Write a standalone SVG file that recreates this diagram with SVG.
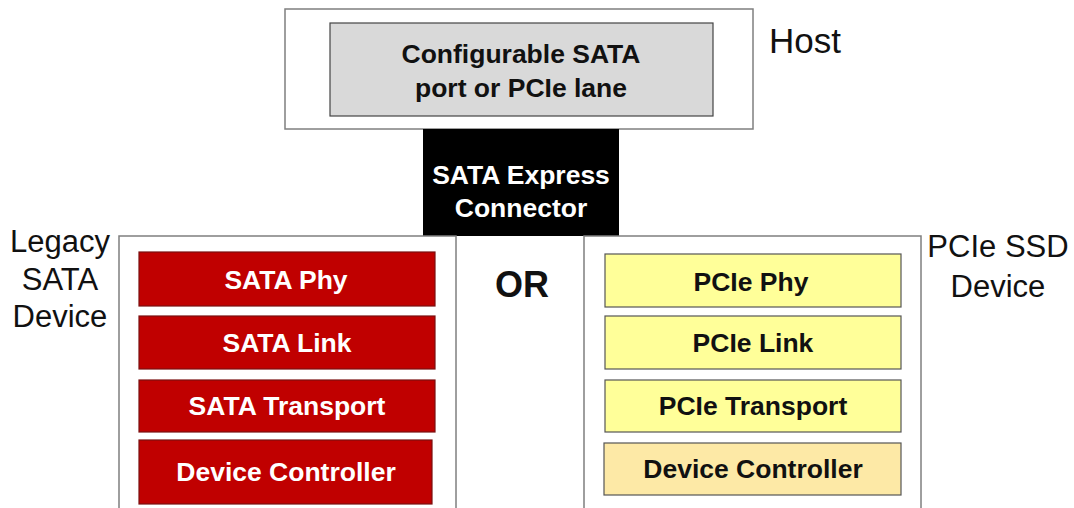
<svg xmlns="http://www.w3.org/2000/svg" width="1074" height="508" viewBox="0 0 1074 508">
<style>
.frame{fill:#fff;stroke:#7f7f7f;stroke-width:1.5}
.red{fill:#c00000;stroke:#7a1010;stroke-width:1.2}
.yel{fill:#ffff99;stroke:#555;stroke-width:1.2}
.org{fill:#fde9a6;stroke:#555;stroke-width:1.2}
.b{font-family:"Liberation Sans",Arial,sans-serif;font-weight:bold;font-size:26.5px;text-anchor:middle}
.w{fill:#fff}
.k{fill:#111}
.lab{font-family:"Liberation Sans",Arial,sans-serif;font-size:31px;fill:#111;text-anchor:middle}
</style>
<rect width="1074" height="508" fill="#fff"/>
<g id="host">
<rect class="frame" x="285" y="9" width="468" height="120"/>
<rect x="330" y="23" width="383" height="93" fill="#d9d9d9" stroke="#444" stroke-width="1.2"/>
<text class="b k" x="521" y="63">Configurable SATA</text>
<text class="b k" x="521" y="97">port or PCIe lane</text>
<text x="769" y="53" font-family="Liberation Sans, Arial, sans-serif" font-size="35" fill="#111">Host</text>
</g>
<g id="connector">
<rect x="423" y="129" width="196" height="107" fill="#000"/>
<text class="b w" x="521" y="184">SATA Express</text>
<text class="b w" x="521" y="217">Connector</text>
</g>
<g id="legacy">
<rect class="frame" x="119" y="236" width="337" height="280"/>
<text class="lab" x="60" y="252">Legacy</text>
<text class="lab" x="60" y="290">SATA</text>
<text class="lab" x="60" y="327">Device</text>
<rect class="red" x="139" y="252" width="296" height="54"/>
<text class="b w" x="286" y="289">SATA Phy</text>
<rect class="red" x="139" y="316" width="296" height="53"/>
<text class="b w" x="287" y="352">SATA Link</text>
<rect class="red" x="139" y="380" width="296" height="52"/>
<text class="b w" x="287" y="415">SATA Transport</text>
<rect class="red" x="139" y="440" width="293" height="64"/>
<text class="b w" x="286" y="481">Device Controller</text>
</g>
<g id="or">
<text x="522" y="297" font-family="Liberation Sans, Arial, sans-serif" font-weight="bold" font-size="36" fill="#111" text-anchor="middle">OR</text>
</g>
<g id="pcie">
<rect class="frame" x="584" y="236" width="337" height="280"/>
<text class="lab" x="998" y="257">PCIe SSD</text>
<text class="lab" x="998" y="297">Device</text>
<rect class="yel" x="605" y="254" width="296" height="53"/>
<text class="b k" x="751" y="291">PCIe Phy</text>
<rect class="yel" x="605" y="316" width="296" height="53"/>
<text class="b k" x="753" y="352">PCIe Link</text>
<rect class="yel" x="605" y="380" width="296" height="52"/>
<text class="b k" x="753" y="415">PCIe Transport</text>
<rect class="org" x="604" y="443" width="297" height="52"/>
<text class="b k" x="753" y="478">Device Controller</text>
</g>
<g id="connectors"></g>
</svg>
